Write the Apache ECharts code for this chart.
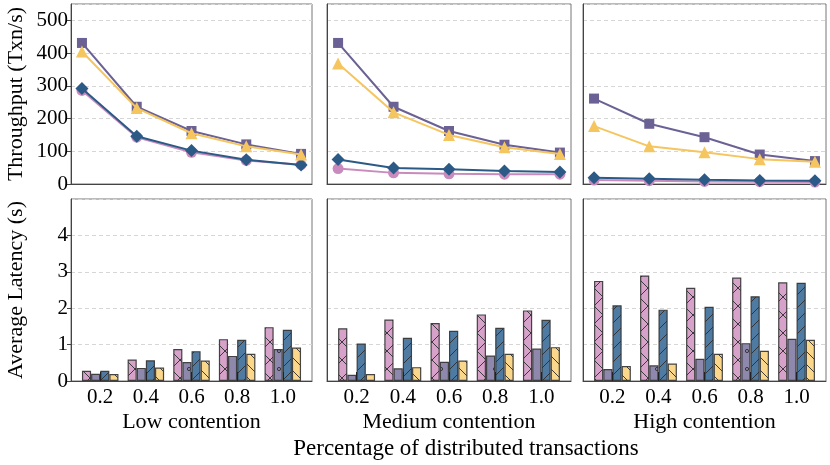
<!DOCTYPE html>
<html><head><meta charset="utf-8">
<script src="https://cdn.jsdelivr.net/npm/echarts@6/dist/echarts.min.js"></script>
<style>html,body{margin:0;padding:0;background:#fff}#c{width:830px;height:465px}</style>
</head><body><div id="c"></div>
<script>
// ---------- data ----------
const xValues = [0.2, 0.4, 0.6, 0.8, 1.0];
const xTickLabels = ['0.2', '0.4', '0.6', '0.8', '1.0'];
const panelNames = ['Low contention', 'Medium contention', 'High contention'];
const seriesNames = ['S1', 'S2', 'S3', 'S4'];

// Throughput (Txn/s)
const thrLowPink   = [286, 143, 97, 72, 59];
const thrLowPurple = [431, 236, 162, 121, 92];
const thrLowBlue   = [292, 146, 102, 74, 58];
const thrLowYellow = [405, 232, 155, 115, 90];

const thrMedPink   = [47, 34, 31, 30, 30];
const thrMedPurple = [431, 236, 162, 120, 96];
const thrMedBlue   = [75, 49, 45, 40, 37];
const thrMedYellow = [368, 219, 150, 112, 92];

const thrHighPink   = [12, 10, 8, 7, 6];
const thrHighPurple = [261, 184, 143, 90, 70];
const thrHighBlue   = [19, 16, 13, 11, 10];
const thrHighYellow = [177, 115, 97, 76, 68];

// Average latency (s)
const latLowPink   = [0.28, 0.59, 0.88, 1.15, 1.48];
const latLowPurple = [0.20, 0.36, 0.52, 0.69, 0.88];
const latLowBlue   = [0.28, 0.57, 0.82, 1.13, 1.41];
const latLowYellow = [0.19, 0.37, 0.56, 0.75, 0.92];

const latMedPink   = [1.45, 1.69, 1.59, 1.83, 1.94];
const latMedPurple = [0.17, 0.35, 0.53, 0.70, 0.89];
const latMedBlue   = [1.03, 1.19, 1.38, 1.46, 1.68];
const latMedYellow = [0.19, 0.38, 0.56, 0.75, 0.93];

const latHighPink   = [2.75, 2.90, 2.56, 2.84, 2.71];
const latHighPurple = [0.33, 0.43, 0.61, 1.04, 1.16];
const latHighBlue   = [2.08, 1.96, 2.04, 2.33, 2.70];
const latHighYellow = [0.41, 0.48, 0.75, 0.83, 1.13];

const thrPanels = [
  [thrLowPink, thrLowPurple, thrLowBlue, thrLowYellow],
  [thrMedPink, thrMedPurple, thrMedBlue, thrMedYellow],
  [thrHighPink, thrHighPurple, thrHighBlue, thrHighYellow]
];
const latPanels = [
  [latLowPink, latLowPurple, latLowBlue, latLowYellow],
  [latMedPink, latMedPurple, latMedBlue, latMedYellow],
  [latHighPink, latHighPurple, latHighBlue, latHighYellow]
];

// ---------- style ----------
const FONT = '"Liberation Serif", "Times New Roman", serif';
const lineColors = ['#c98bbd', '#6b6195', '#2b5a86', '#f5c55f'];
const barColors  = ['#d6a2ca', '#8f88ad', '#4f7ba3', '#fbd78c'];
const symbols = ['circle', 'rect', 'diamond', 'triangle'];
const symbolSizes = [11, 10, 13, 12];
const hatches = ['x', 'o', '/', '\\'];

function makePattern(bg, type) {
  const s = (type === 'x' || type === 'o') ? 18 : 13;
  const c = document.createElement('canvas');
  c.width = s; c.height = s;
  const g = c.getContext('2d');
  g.fillStyle = bg; g.fillRect(0, 0, s, s);
  g.strokeStyle = 'rgba(45,45,45,0.9)';
  g.lineWidth = 1;
  g.beginPath();
  if (type === '/' || type === 'x') {
    for (const k of [-s, 0, s]) { g.moveTo(k, s); g.lineTo(k + s, 0); }
  }
  if (type === '\\' || type === 'x') {
    for (const k of [-s, 0, s]) { g.moveTo(k, 0); g.lineTo(k + s, s); }
  }
  g.stroke();
  if (type === 'o') {
    g.beginPath(); g.arc(s / 2, s / 2, 1.6, 0, Math.PI * 2); g.stroke();
  }
  return c;
}

const colLeft = [71, 327, 583];
const colWidth = [241, 244, 243];
const topTop = 4, topH = 180, botTop = 199, botH = 182;

const grids = [], xAxes = [], yAxes = [], series = [];
const axisLineStyle = { color: '#444', width: 1 };
for (let p = 0; p < 3; p++) {
  grids.push({ left: colLeft[p], top: topTop, width: colWidth[p], height: topH, show: true, borderColor: '#777', borderWidth: 1 });
  grids.push({ left: colLeft[p], top: botTop, width: colWidth[p], height: botH, show: true, borderColor: '#777', borderWidth: 1 });
}
for (let p = 0; p < 3; p++) {
  const gTop = 2 * p, gBot = 2 * p + 1;
  xAxes.push({
    type: 'value', gridIndex: gTop, min: 0.16, max: 1.04,
    axisLine: { show: true, onZero: false, lineStyle: axisLineStyle }, axisTick: { show: false },
    axisLabel: { show: false }, splitLine: { show: false }
  });
  xAxes.push({
    type: 'value', gridIndex: gBot, min: -0.64, max: 4.64, z: 5,
    name: panelNames[p], nameLocation: 'middle', nameGap: 30,
    nameTextStyle: { fontFamily: FONT, fontSize: 22, color: '#000' },
    axisLine: { show: true, onZero: false, lineStyle: axisLineStyle },
    axisTick: { show: true, inside: true, length: 9, customValues: [0, 1, 2, 3, 4], lineStyle: { color: '#222', width: 1 } },
    axisLabel: { show: true, customValues: [0, 1, 2, 3, 4], formatter: v => xTickLabels[Math.round(v)], fontFamily: FONT, fontSize: 21, color: '#000', margin: 6 },
    splitLine: { show: false }
  });
  const first = p === 0;
  yAxes.push({
    type: 'value', gridIndex: gTop, min: 0, max: 550, interval: 100,
    name: first ? 'Throughput (Txn/s)' : '', nameLocation: 'middle', nameGap: 44,
    nameTextStyle: { fontFamily: FONT, fontSize: 22, color: '#000' },
    axisLine: { show: true, onZero: false, lineStyle: axisLineStyle },
    axisTick: { show: first, length: 4, lineStyle: { color: '#444' } },
    axisLabel: { show: first, showMaxLabel: false, fontFamily: FONT, fontSize: 21, color: '#000', margin: 3 },
    splitLine: { show: true, lineStyle: { color: '#d6d6d6', type: [4, 3], width: 1 } }
  });
  yAxes.push({
    type: 'value', gridIndex: gBot, min: 0, max: 5, interval: 1,
    name: first ? 'Average Latency (s)' : '', nameLocation: 'middle', nameGap: 44,
    nameTextStyle: { fontFamily: FONT, fontSize: 22, color: '#000' },
    axisLine: { show: true, onZero: false, lineStyle: axisLineStyle },
    axisTick: { show: first, length: 4, lineStyle: { color: '#444' } },
    axisLabel: { show: first, showMaxLabel: false, fontFamily: FONT, fontSize: 21, color: '#000', margin: 3 },
    splitLine: { show: true, lineStyle: { color: '#d6d6d6', type: [4, 3], width: 1 } }
  });
  for (let s = 0; s < 4; s++) {
    series.push({
      type: 'line', name: seriesNames[s], xAxisIndex: gTop, yAxisIndex: gTop,
      data: xValues.map((x, i) => [x, thrPanels[p][s][i]]),
      symbol: symbols[s], symbolSize: symbolSizes[s],
      lineStyle: { color: lineColors[s], width: 2 },
      itemStyle: { color: lineColors[s] },
      z: 2 + s
    });
  }
  for (let s = 0; s < 4; s++) {
    series.push({
      type: 'bar', name: seriesNames[s], xAxisIndex: gBot, yAxisIndex: gBot,
      data: latPanels[p][s].map((v, i) => [i, v]),
      barWidth: '20%', barGap: '0%',
      itemStyle: { color: { image: makePattern(barColors[s], hatches[s]), repeat: 'repeat' }, borderColor: 'rgba(50,50,50,0.9)', borderWidth: 1.2 }
    });
  }
}

const chart = echarts.init(document.getElementById('c'), null, { renderer: 'canvas' });
chart.setOption({
  animation: false,
  backgroundColor: '#fff',
  textStyle: { fontFamily: FONT },
  grid: grids, xAxis: xAxes, yAxis: yAxes, series: series,
  graphic: [{
    type: 'text', x: 466, y: 449,
    style: { text: 'Percentage of distributed transactions', font: '23px ' + FONT, fill: '#000', align: 'center', verticalAlign: 'middle' }
  }]
});
</script></body></html>
